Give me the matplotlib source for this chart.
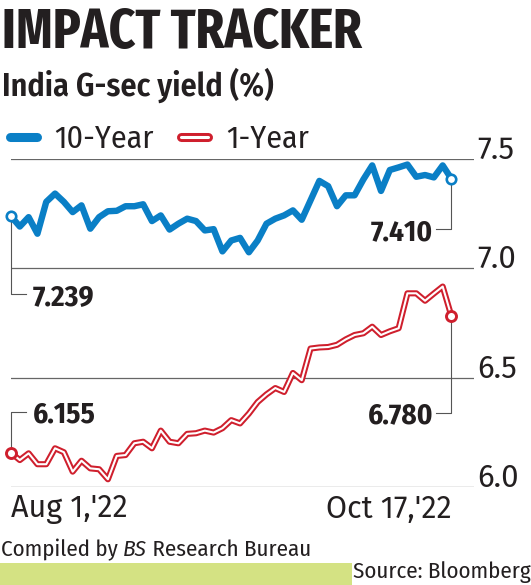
import matplotlib
matplotlib.use('Agg')
import matplotlib.pyplot as plt
import matplotlib.patheffects as pe
from matplotlib.lines import Line2D
from matplotlib.patches import Rectangle
import numpy as np

# ---------------- data ----------------
title = "IMPACT TRACKER"
subtitle = "India G-sec yield (%)"
series_names = ["10-Year", "1-Year"]
x_labels = ["Aug 1,'22", "Oct 17,'22"]
y_ticks = [6.0, 6.5, 7.0, 7.5]
y_tick_labels = ["6.0", "6.5", "7.0", "7.5"]

ten_year = [7.239, 7.192, 7.235, 7.159, 7.305, 7.343, 7.305, 7.258, 7.289, 7.182,
            7.235, 7.262, 7.264, 7.285, 7.285, 7.294, 7.217, 7.243, 7.178, 7.205,
            7.228, 7.217, 7.174, 7.180, 7.078, 7.128, 7.140, 7.074, 7.128, 7.205,
            7.228, 7.243, 7.266, 7.223, 7.312, 7.401, 7.377, 7.285, 7.335, 7.335,
            7.408, 7.472, 7.355, 7.451, 7.463, 7.476, 7.420, 7.428, 7.417, 7.472,
            7.410]
one_year = [6.155, 6.122, 6.153, 6.103, 6.103, 6.176, 6.158, 6.069, 6.119, 6.084,
            6.080, 6.034, 6.141, 6.145, 6.199, 6.206, 6.176, 6.257, 6.206, 6.199,
            6.242, 6.245, 6.257, 6.248, 6.268, 6.305, 6.290, 6.335, 6.388, 6.423,
            6.452, 6.434, 6.521, 6.488, 6.633, 6.638, 6.640, 6.650, 6.675, 6.695,
            6.703, 6.733, 6.695, 6.712, 6.726, 6.886, 6.886, 6.852, 6.885, 6.917,
            6.780]
start_labels = ["7.239", "6.155"]
end_labels = ["7.410", "6.780"]

# ---------------- style ----------------
BLUE = '#0a7fc6'
RED = '#cf1f2d'
TXT = '#231f20'
GRID = '#666666'
LEAD = '#555555'
GREEN = '#d4e283'
COND = ['Fira Sans Condensed', 'DejaVu Sans']
XCOND = ['Fira Sans Extra Condensed', 'Fira Sans Condensed', 'DejaVu Sans']
WIDE = ['Fira Sans', 'Fira Sans Condensed', 'DejaVu Sans']

W, H = 531, 585
fig = plt.figure(figsize=(W / 100, H / 100), dpi=100)


def fx(px):
    return px / W


def fy(py):
    return 1 - py / H


ax = fig.add_axes([fx(11), fy(486.7), fx(474) - fx(11), fy(159.3) - fy(486.7)])
n = len(ten_year)
x = np.arange(n)
ax.set_xlim(0, (n - 1) * 463 / 440.5)
ax.set_ylim(y_ticks[0], y_ticks[-1])
for s in ax.spines.values():
    s.set_visible(False)
ax.set_axisbelow(True)

# gridlines + y tick labels (right side)
ax.set_yticks(y_ticks)
ax.set_yticklabels(y_tick_labels)
ax.yaxis.tick_right()
ax.tick_params(axis='y', length=0, pad=2.5, labelsize=22.5, labelcolor=TXT)
for lab in ax.get_yticklabels():
    lab.set_fontfamily(WIDE)
    lab.set_fontweight('normal')
    lab.set_va('baseline')
ax.grid(axis='y', color=GRID, lw=0.9)
ax.grid(axis='x', visible=False)

# x tick labels
ax.set_xticks([x[0], x[-1]])
ax.set_xticklabels(x_labels)
ax.tick_params(axis='x', length=0, pad=5, labelsize=22, labelcolor=TXT)
xl = ax.get_xticklabels()
for lab in xl:
    lab.set_fontfamily(WIDE)
    lab.set_fontweight('normal')
xl[0].set_ha('left')
xl[1].set_ha('right')

# lines
ax.plot(x, ten_year, color=BLUE, lw=4.6, solid_joinstyle='round',
        solid_capstyle='round', clip_on=False, zorder=3)
ax.plot(x, one_year, color='white', lw=1.5, solid_joinstyle='round',
        solid_capstyle='round', clip_on=False, zorder=3,
        path_effects=[pe.Stroke(linewidth=4.4, foreground=RED, joinstyle='round',
                                capstyle='round'), pe.Normal()])

# end markers
ax.plot([x[0], x[-1]], [ten_year[0], ten_year[-1]], 'o', ms=6.8, mfc='white',
        mec=BLUE, mew=1.9, clip_on=False, zorder=5)
ax.plot([x[0], x[-1]], [one_year[0], one_year[-1]], 'o', ms=7.2, mfc='white',
        mec=RED, mew=2.1, clip_on=False, zorder=5)


# leader lines and value labels
def px_to_val(py):
    return y_ticks[0] + (486.7 - py) / (486.7 - 159.3) * (y_ticks[-1] - y_ticks[0])


dx = 440.5 / (n - 1)
left_y = [px_to_val(293.7), px_to_val(411.7)]
right_y = [px_to_val(229.3), px_to_val(412.7)]
starts = [ten_year[0], one_year[0]]
ends = [ten_year[-1], one_year[-1]]
for sv, ly, lab in zip(starts, left_y, start_labels):
    ax.plot([x[0], x[0], x[0] + 15 / dx], [sv, ly, ly], color=LEAD, lw=0.8,
            clip_on=False, zorder=2)
    ax.text(x[0] + 22 / dx, ly, lab, ha='left', va='center_baseline', fontsize=21,
            fontweight='bold', family=COND, color=TXT)
for ev, ry, lab in zip(ends, right_y, end_labels):
    ax.plot([x[-1], x[-1], x[-1] - 15 / dx], [ev, ry, ry], color=LEAD, lw=0.8,
            clip_on=False, zorder=2)
    ax.text(x[-1] - 18 / dx, ry, lab, ha='right', va='center_baseline', fontsize=21,
            fontweight='bold', family=COND, color=TXT)

# legend
h1 = Line2D([], [], color=BLUE, lw=6.5, solid_capstyle='round')
h2 = Line2D([], [], color='white', lw=2.2, solid_capstyle='round',
            path_effects=[pe.Stroke(linewidth=6.5, foreground=RED, capstyle='round'),
                          pe.Normal()])
fig.legend([h1, h2], series_names, loc='center left', bbox_to_anchor=(fx(10), fy(139)),
           ncol=2, frameon=False, handlelength=0.85, handletextpad=0.55,
           columnspacing=0.85, borderpad=0, borderaxespad=0,
           prop={'family': COND, 'size': 23, 'weight': 'normal'}, labelcolor=TXT)

# title & subtitle
fig.text(fx(2), fy(48.3), title, ha='left', va='baseline', fontsize=40,
         fontweight='bold', family=XCOND, color=TXT)
fig.text(fx(2), fy(95.7), subtitle, ha='left', va='baseline', fontsize=23,
         fontweight='semibold', family=COND, color=TXT)

# footer
fig.canvas.draw()
renderer = fig.canvas.get_renderer()
t1 = fig.text(fx(1), fy(556.4), "Compiled by ", ha='left', va='baseline', fontsize=16.5,
              family=COND, color=TXT)
bb = t1.get_window_extent(renderer)
t2 = fig.text(bb.x1 / W, fy(556.4), "BS", ha='left', va='baseline', fontsize=16.5,
              family=COND, style='italic', color=TXT)
bb2 = t2.get_window_extent(renderer)
fig.text(bb2.x1 / W, fy(556.4), " Research Bureau", ha='left', va='baseline',
         fontsize=16.5, family=COND, color=TXT)

fig.patches.append(Rectangle((0, 0), fx(352), fy(563), transform=fig.transFigure,
                             facecolor=GREEN, edgecolor='none', zorder=0))
fig.text(fx(353), fy(577.8), "Source: Bloomberg", ha='left', va='baseline',
         fontsize=16.5, family=COND, color=TXT)

fig.savefig('out.png', dpi=100)
